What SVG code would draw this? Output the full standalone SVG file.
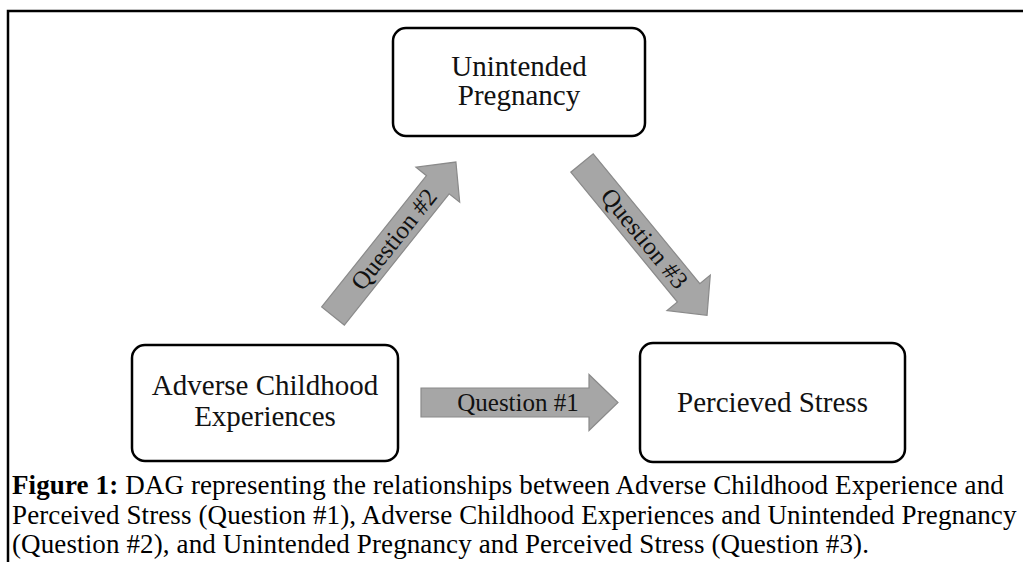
<svg xmlns="http://www.w3.org/2000/svg" width="1023" height="562" viewBox="0 0 1023 562">
<style>
.box{fill:#fff;stroke:#000;stroke-width:2.5}
.node{font-family:"Liberation Serif","Times New Roman",serif;font-size:29px;fill:#111;text-anchor:middle}
.arr{fill:#a6a6a6;stroke:#8a8a8a;stroke-width:1.2}
.lbl{font-family:"Liberation Serif","Times New Roman",serif;font-size:25px;fill:#111;text-anchor:middle}
.cap{font-family:"Liberation Serif","Times New Roman",serif;font-size:27px;letter-spacing:0.12px;fill:#000}
</style>
<defs>
<path id="arrowShape" d="M0,-14.5 L168,-14.5 L168,-28 L197,0 L168,28 L168,14.5 L0,14.5 Z"/>
</defs>
<rect width="1023" height="562" fill="#fff"/>
<rect x="8" y="11" width="1040" height="580" fill="none" stroke="#000" stroke-width="2.5"/>
<g id="connectors">
<g id="q1" transform="translate(421,402.5)">
<use href="#arrowShape" class="arr"/>
<text class="lbl" x="97" y="8">Question #1</text>
</g>
<g id="q2" transform="translate(333,316) rotate(-51.4)">
<use href="#arrowShape" class="arr"/>
<text class="lbl" x="98" y="8">Question #2</text>
</g>
<g id="q3" transform="translate(582,163) rotate(50.6)">
<use href="#arrowShape" class="arr"/>
<text class="lbl" x="98" y="8">Question #3</text>
</g>
</g>
<g id="unintended">
<rect class="box" x="393" y="28" width="252" height="108" rx="13"/>
<text class="node" x="519" y="76">Unintended</text>
<text class="node" x="519" y="105">Pregnancy</text>
</g>
<g id="adverse">
<rect class="box" x="132" y="345" width="266" height="116" rx="13"/>
<text class="node" x="265" y="395">Adverse Childhood</text>
<text class="node" x="265" y="426">Experiences</text>
</g>
<g id="stress">
<rect class="box" x="640" y="343" width="265" height="119" rx="13"/>
<text class="node" x="772.5" y="412">Percieved Stress</text>
</g>
<g id="caption">
<text class="cap" x="12" y="494"><tspan font-weight="bold">Figure 1:</tspan> DAG representing the relationships between Adverse Childhood Experience and</text>
<text class="cap" x="12" y="524">Perceived Stress (Question #1), Adverse Childhood Experiences and Unintended Pregnancy</text>
<text class="cap" x="12" y="553">(Question #2), and Unintended Pregnancy and Perceived Stress (Question #3).</text>
</g>
</svg>
